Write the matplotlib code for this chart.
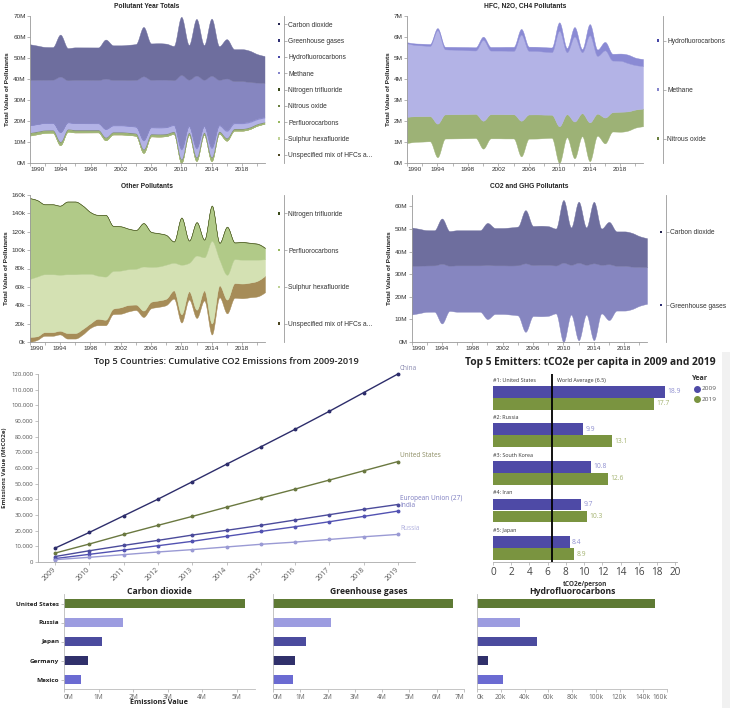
import numpy as np
import matplotlib
matplotlib.use("Agg")
import matplotlib.pyplot as plt
from matplotlib.lines import Line2D
from matplotlib.patches import Rectangle

# ---------------- data ----------------
years = list(range(1990, 2022))

co2 = [17.0, 16.3, 15.6, 15.5, 20.0, 15.3, 15.5, 15.5, 15.5, 15.5,
       18.6, 16.5, 16.5, 16.8, 17.1, 23.5, 17.3, 17.3, 17.1, 16.3,
       27.7, 16.5, 27.0, 16.5, 27.2, 16.0, 18.7, 15.2, 15.2, 14.9, 13.6, 12.8]
ghg = [21.5, 21.0, 20.5, 20.5, 26.4, 20.0, 20.5, 20.5, 20.5, 20.5,
       23.9, 21.5, 21.5, 21.7, 22.2, 30.3, 22.5, 22.7, 22.5, 21.2,
       35.1, 22.0, 34.3, 22.0, 34.0, 21.5, 24.7, 19.8, 19.8, 18.8, 17.2, 16.2]
hfc = [0.05, 0.07, 0.08, 0.09, 0.10, 0.12, 0.13, 0.14, 0.15, 0.15,
       0.15, 0.17, 0.17, 0.18, 0.19, 0.27, 0.20, 0.20, 0.21, 0.22,
       0.40, 0.20, 0.45, 0.15, 0.53, 0.30, 0.40, 0.32, 0.34, 0.40, 0.35, 0.33]
ch4 = [3.50, 3.40, 3.37, 3.34, 4.45, 3.10, 3.08, 3.06, 3.04, 3.02,
       3.85, 3.03, 3.03, 3.03, 3.02, 4.10, 3.03, 3.02, 3.00, 2.98,
       4.55, 2.95, 4.05, 2.90, 4.15, 2.75, 3.20, 2.46, 2.43, 2.30, 2.12, 2.03]
n2o = [1.25, 1.22, 1.21, 1.20, 1.60, 1.15, 1.15, 1.15, 1.15, 1.15,
       1.33, 1.15, 1.15, 1.15, 1.15, 1.70, 1.15, 1.15, 1.12, 1.10,
       1.75, 1.10, 1.75, 1.10, 1.85, 1.05, 1.23, 0.92, 0.95, 0.92, 0.86, 0.84]
# thousands
nf3 = [0.3, 0.3, 0.3, 0.3, 0.3, 0.3, 0.3, 0.3, 0.3, 0.3,
       0.3, 0.3, 0.3, 0.3, 0.3, 0.4, 0.3, 0.3, 0.3, 0.3,
       0.5, 0.4, 0.5, 0.4, 0.6, 0.4, 0.5, 0.5, 0.5, 0.5, 0.5, 0.5]
pfc = [88, 83, 76, 76, 75, 79, 79, 74, 67, 66,
       67, 49, 48, 44, 42, 47, 38, 36, 32, 23,
       51, 24, 36, 19, 38, 18, 52, 18, 19, 18, 17, 12]
sf6 = [63, 65, 63, 63, 61, 64, 64, 60, 54, 47,
       47, 41, 40, 39, 39, 48, 38, 37, 37, 30,
       54, 31, 59, 36, 90, 28, 27, 26, 26, 25, 23, 18]
unsp = [5.5, 4, 4, 4, 4, 6, 6, 6, 5, 7,
        6, 6, 7, 7, 6, 7, 7, 7, 7, 9,
        9, 9, 9, 11, 12, 13, 15, 16, 16, 16, 17, 18]

pollutants = ["Carbon dioxide", "Greenhouse gases", "Hydrofluorocarbons", "Methane",
              "Nitrogen trifluoride", "Nitrous oxide", "Perfluorocarbons",
              "Sulphur hexafluoride", "Unspecified mix of HFCs a..."]

# cumulative CO2 emissions (MtCO2e)
cum_years = list(range(2009, 2020))
cum_china = [8900, 18900, 29500, 40100, 51200, 62400, 73500, 84700, 96200, 108100, 120000]
cum_us = [5700, 11500, 17600, 23400, 29100, 35000, 40800, 46500, 52300, 58200, 64100]
cum_eu = [3500, 7200, 10600, 13800, 17200, 20200, 23400, 26800, 30200, 33600, 36700]
cum_india = [2200, 4900, 7600, 10400, 13200, 16400, 19500, 22500, 25700, 29100, 32500]
cum_russia = [1500, 3000, 4700, 6400, 7900, 9600, 11300, 12700, 14400, 16100, 17600]

# per-capita
emitters = ["#1: United States", "#2: Russia", "#3: South Korea", "#4: Iran", "#5: Japan"]
pc_2009 = [18.9, 9.9, 10.8, 9.7, 8.4]
pc_2019 = [17.7, 13.1, 12.6, 10.3, 8.9]
world_avg = 6.5

# bottom bars
bar_countries = ["United States", "Russia", "Japan", "Germany", "Mexico"]
bar_co2 = [5.25e6, 1.70e6, 1.09e6, 0.70e6, 0.48e6]
bar_ghg = [6.60e6, 2.12e6, 1.20e6, 0.79e6, 0.72e6]
bar_hfc = [150e3, 36e3, 50.5e3, 9e3, 21.7e3]

# ---------------- style ----------------
SANS = "Liberation Sans"
OPEN = "Open Sans"
plt.rcParams["font.family"] = [OPEN, "DejaVu Sans"]

area_col = {
    "Carbon dioxide": "#6e6e9e", "Greenhouse gases": "#8686c0", "Hydrofluorocarbons": "#8a8ad4",
    "Methane": "#b3b3e6", "Nitrogen trifluoride": "#5a6a30", "Nitrous oxide": "#9db276",
    "Perfluorocarbons": "#b1ca88", "Sulphur hexafluoride": "#d4e1b3",
    "Unspecified mix of HFCs a...": "#a68c58"}
mark_col = {
    "Carbon dioxide": "#25254f", "Greenhouse gases": "#2f2f74", "Hydrofluorocarbons": "#4747a6",
    "Methane": "#8585cc", "Nitrogen trifluoride": "#3a4a1a", "Nitrous oxide": "#6a7f3f",
    "Perfluorocarbons": "#98b860", "Sulphur hexafluoride": "#bfd296",
    "Unspecified mix of HFCs a...": "#4b4520"}

W, H = 730, 708
fig = plt.figure(figsize=(W / 100, H / 100), dpi=100)
fig.patch.set_facecolor("white")


def add_px(l, t, r, b):
    return fig.add_axes([l / W, 1 - b / H, (r - l) / W, (b - t) / H])


def ftext(x, y, s, **kw):
    return fig.text(x / W, 1 - y / H, s, **kw)


def monotone(x, y, n=14):
    x = np.asarray(x, float)
    y = np.asarray(y, float)
    h = np.diff(x)
    s = np.diff(y) / h
    m = np.zeros_like(y)
    for i in range(1, len(x) - 1):
        h0, h1, s0, s1 = h[i - 1], h[i], s[i - 1], s[i]
        p = (s0 * h1 + s1 * h0) / (h0 + h1)
        m[i] = (np.sign(s0) + np.sign(s1)) * min(abs(s0), abs(s1), 0.5 * abs(p))
    m[0] = (3 * s[0] - m[1]) / 2
    m[-1] = (3 * s[-1] - m[-2]) / 2
    xs, ys = [], []
    for i in range(len(h)):
        t = np.linspace(0, 1, n, endpoint=False)
        h00 = 2 * t**3 - 3 * t**2 + 1
        h10 = t**3 - 2 * t**2 + t
        h01 = -2 * t**3 + 3 * t**2
        h11 = t**3 - t**2
        xs.append(x[i] + t * h[i])
        ys.append(h00 * y[i] + h10 * h[i] * m[i] + h01 * y[i + 1] + h11 * h[i] * m[i + 1])
    xs.append([x[-1]])
    ys.append([y[-1]])
    return np.concatenate(xs), np.concatenate(ys)


def stream(ax, names, values, ymax, ystep, unit, title, tx, ty):
    vals = np.array(values, float)
    total = vals.sum(0)
    base = (total.max() - total) / 2
    bounds = [base]
    for v in vals:
        bounds.append(bounds[-1] + v)
    for k, nm in enumerate(names):
        xs, lo = monotone(years, bounds[k])
        _, up = monotone(years, bounds[k + 1])
        ax.fill_between(xs, lo, up, color=area_col[nm], lw=0.3, edgecolor=area_col[nm])
    ax.set_xlim(1990, 2021)
    ax.set_ylim(0, ymax)
    for s in ("top", "right"):
        ax.spines[s].set_visible(False)
    for s in ("left", "bottom"):
        ax.spines[s].set_color("#999999")
        ax.spines[s].set_linewidth(0.6)
    xt = list(range(1990, 2022, 2))
    ax.set_xticks(xt, [str(v) if (v - 1990) % 4 == 0 else "" for v in xt])
    ax.get_xticklabels()[0].set_horizontalalignment("left")
    yt = np.arange(0, ymax + 1e-9, ystep)
    ax.set_yticks(yt, [f"{int(round(v))}{unit}" for v in yt])
    ax.tick_params(length=2, width=0.5, color="#999999", labelcolor="#333333",
                   labelsize=4.6, pad=1, labelfontfamily=SANS)
    ax.set_ylabel("Total Value of Pollutants", fontsize=4.6, fontweight="bold",
                  family=SANS, labelpad=2, color="#222222")
    ax.set_facecolor("none")
    ftext(tx, ty, title, fontsize=4.8, fontweight="bold", family=SANS,
          ha="center", va="center", color="#222222")


def legend_axis(l, t, r, b, names):
    lax = add_px(l, t, r, b)
    n = len(names)
    lax.set_xlim(0, r - l)
    lax.set_ylim(n, 0)
    for s in ("top", "bottom", "left"):
        lax.spines[s].set_visible(False)
    lax.spines["right"].set_position(("axes", 0))
    lax.spines["right"].set_color("#999999")
    lax.spines["right"].set_linewidth(0.6)
    lax.yaxis.tick_right()
    lax.set_yticks(np.arange(n) + 0.5, names)
    lax.set_xticks([])
    lax.tick_params(axis="y", length=2, width=0.5, pad=1, color="#999999",
                    labelcolor="#333333", labelsize=4.8, labelfontfamily=SANS)
    lax.scatter(np.full(n, -5.0), np.arange(n) + 0.5, marker="s", s=3,
                c=[mark_col[nm] for nm in names], clip_on=False, linewidths=0)
    lax.patch.set_visible(False)


# ---------------- stream charts ----------------
all_names = pollutants[::-1]
k = 1000.0
all_vals = [np.array(unsp) / k, np.array(sf6) / k, np.array(pfc) / k, n2o,
            np.array(nf3) / k, ch4, hfc, ghg, co2]
a1 = add_px(30, 16, 264.5, 163)
stream(a1, all_names, all_vals, 70, 10, "M", "Pollutant Year Totals", 147, 6)
legend_axis(284, 16, 380, 163, pollutants)

a2 = add_px(407, 16, 643, 163)
stream(a2, ["Nitrous oxide", "Methane", "Hydrofluorocarbons"], [n2o, ch4, hfc],
       7, 1, "M", "HFC, N2O, CH4 Pollutants", 525, 6)
legend_axis(663, 16, 730, 163, ["Hydrofluorocarbons", "Methane", "Nitrous oxide"])

a3 = add_px(29.5, 195, 265, 342)
stream(a3, ["Unspecified mix of HFCs a...", "Sulphur hexafluoride", "Perfluorocarbons",
            "Nitrogen trifluoride"], [unsp, sf6, pfc, nf3], 160, 20, "k", "Other Pollutants", 147, 186)
legend_axis(284, 195, 380, 342, ["Nitrogen trifluoride", "Perfluorocarbons",
                                  "Sulphur hexafluoride", "Unspecified mix of HFCs a..."])

a4 = add_px(411.5, 195, 647, 342)
stream(a4, ["Greenhouse gases", "Carbon dioxide"], [ghg, co2], 65, 10, "M",
       "CO2 and GHG Pollutants", 529, 186)
a4.set_yticks(np.arange(0, 61, 10), [f"{v}M" for v in range(0, 61, 10)])
legend_axis(666, 195, 730, 342, ["Carbon dioxide", "Greenhouse gases"])

# ---------------- line chart ----------------
lc = add_px(38, 374, 415, 562)
xi = np.arange(len(cum_years))
line_series = [("China", cum_china, "#2d2d6b", "#8a8ab0"),
               ("United States", cum_us, "#6a7840", "#8c8c62"),
               ("European Union (27)", cum_eu, "#4b4b9b", "#7c7cc0"),
               ("India", cum_india, "#5252b2", "#7c7cc0"),
               ("Russia", cum_russia, "#9a9ad4", "#b0b0de")]
for name, vals, col, lcol in line_series:
    lc.plot(xi, vals, color=col, lw=1.0, marker="o", ms=1.8, clip_on=False)
    lc.annotate(name, (xi[-1], vals[-1]), xytext=(1.5, 1.6), textcoords="offset points",
                fontsize=4.7, color=lcol, ha="left", va="bottom")
lc.set_xlim(-0.5, len(cum_years) - 0.5)
lc.set_ylim(0, 120000)
lc.set_xticks(xi, [str(y) for y in cum_years], rotation=45, ha="right",
              rotation_mode="anchor", va="center")
yt = np.arange(0, 120001, 10000)
lc.set_yticks(yt, [f"{int(v):,}".replace(",", ".") for v in yt])
for s in ("top", "right"):
    lc.spines[s].set_visible(False)
for s in ("left", "bottom"):
    lc.spines[s].set_color("#aaaaaa")
    lc.spines[s].set_linewidth(0.6)
lc.tick_params(length=2, width=0.5, color="#aaaaaa", labelcolor="#555555", labelsize=4.3, pad=1.5)
lc.tick_params(axis="x", pad=3, labelsize=5.0)
lc.set_ylabel("Emissions Value (MtCO2e)", fontsize=4.5, fontweight="bold", color="#333333", labelpad=3)
ftext(226, 361, "Top 5 Countries: Cumulative CO2 Emissions from 2009-2019", fontsize=6.7,
      fontweight="semibold", ha="center", va="center", color="#222222")

# ---------------- per-capita chart ----------------
fig.patches.append(Rectangle((722 / W, 0), 8 / W, 1 - 352 / H, transform=fig.transFigure,
                             facecolor="#f1f1f1", edgecolor="none", zorder=0))
pc = add_px(493, 374, 677, 562)
gi = np.arange(len(emitters))
c09, c19 = "#4e4aa6", "#7a9440"
pc.barh(gi + 0.47, pc_2009, height=0.31, color=c09)
pc.barh(gi + 0.79, pc_2019, height=0.31, color=c19)
for i in gi:
    pc.text(pc_2009[i] + 0.25, i + 0.47, f"{pc_2009[i]}", fontsize=4.9, color="#8f8fd0", va="center")
    pc.text(pc_2019[i] + 0.25, i + 0.79, f"{pc_2019[i]}", fontsize=4.9, color="#a3b26f", va="center")
    pc.text(0.0, i + 0.16, emitters[i], fontsize=3.9, color="#333333", va="center")
pc.axvline(world_avg, color="black", lw=1.3)
pc.text(world_avg + 0.5, 0.16, f"World Average ({world_avg})", fontsize=3.9, color="#333333", va="center")
pc.set_xlim(0, 20.2)
pc.set_ylim(len(emitters), 0)
pc.set_yticks([])
pc.set_xticks(np.arange(0, 21, 2))
for s in ("top", "right", "left"):
    pc.spines[s].set_visible(False)
pc.spines["bottom"].set_color("#aaaaaa")
pc.spines["bottom"].set_linewidth(0.6)
pc.tick_params(axis="x", length=2.5, width=0.5, color="#aaaaaa", labelcolor="#444444",
               labelsize=7.2, pad=1)
pc.set_xlabel("tCO2e/person", fontsize=4.7, fontweight="bold", color="#333333", labelpad=2)
ftext(590, 363, "Top 5 Emitters: tCO2e per capita in 2009 and 2019", fontsize=7.4,
      fontweight="bold", ha="center", va="center", color="#222222")
ftext(692, 378, "Year", fontsize=5.2, fontweight="bold", ha="left", va="center", color="#333333")
for yy, col, lab in ((389, c09, "2009"), (399, c19, "2019")):
    fig.add_artist(Line2D([697 / W], [1 - yy / H], marker="o", ms=4, color=col,
                          transform=fig.transFigure, linestyle="none"))
    ftext(702, yy, lab, fontsize=4.6, color="#555555", ha="left", va="center")

# ---------------- bottom bars ----------------
bar_cols = ["#5e7a34", "#9c9ce0", "#4b4b9e", "#30306b", "#6b6bd2"]


def hbars(l, r, vals, xmax, ticks, labels, title, show_y, flush_last):
    ax = add_px(l, 594, r, 689)
    yi = np.arange(len(bar_countries))
    ax.barh(yi, vals, height=0.49, color=bar_cols)
    ax.set_ylim(len(bar_countries) - 0.5, -0.5)
    ax.set_xlim(0, xmax)
    ax.set_xticks(ticks, labels)
    xl = ax.get_xticklabels()
    xl[0].set_horizontalalignment("left")
    if flush_last:
        xl[-1].set_horizontalalignment("right")
    if show_y:
        ax.set_yticks(yi, bar_countries)
        ax.tick_params(axis="y", length=2, width=0.5, color="#aaaaaa", labelsize=4.6,
                       labelcolor="#222222", pad=1.5)
        for t in ax.get_yticklabels():
            t.set_fontweight("bold")
    else:
        ax.set_yticks([])
    for s in ("top", "right"):
        ax.spines[s].set_visible(False)
    for s in ("left", "bottom"):
        ax.spines[s].set_color("#bbbbbb")
        ax.spines[s].set_linewidth(0.6)
    ax.tick_params(axis="x", length=2, width=0.5, color="#aaaaaa", labelcolor="#666666",
                   labelsize=4.8, pad=1.5)
    ftext((l + r) / 2, 591, title, fontsize=6.2, fontweight="bold", ha="center",
          va="center", color="#222222")
    return ax


hbars(64, 255, bar_co2, 5.53e6, np.arange(0, 5.1e6, 1e6), [f"{i}M" for i in range(6)],
      "Carbon dioxide", True, False)
hbars(273, 464, bar_ghg, 7e6, np.arange(0, 7.1e6, 1e6), [f"{i}M" for i in range(8)],
      "Greenhouse gases", False, True)
hbars(477, 667, bar_hfc, 160e3, np.arange(0, 160001, 20000), [f"{i}k" for i in range(0, 161, 20)],
      "Hydrofluorocarbons", False, True)
ftext(159, 703, "Emissions Value", fontsize=5.2, fontweight="bold", ha="center", va="center",
      color="#222222")

fig.savefig("out.png", dpi=100, facecolor="white")
